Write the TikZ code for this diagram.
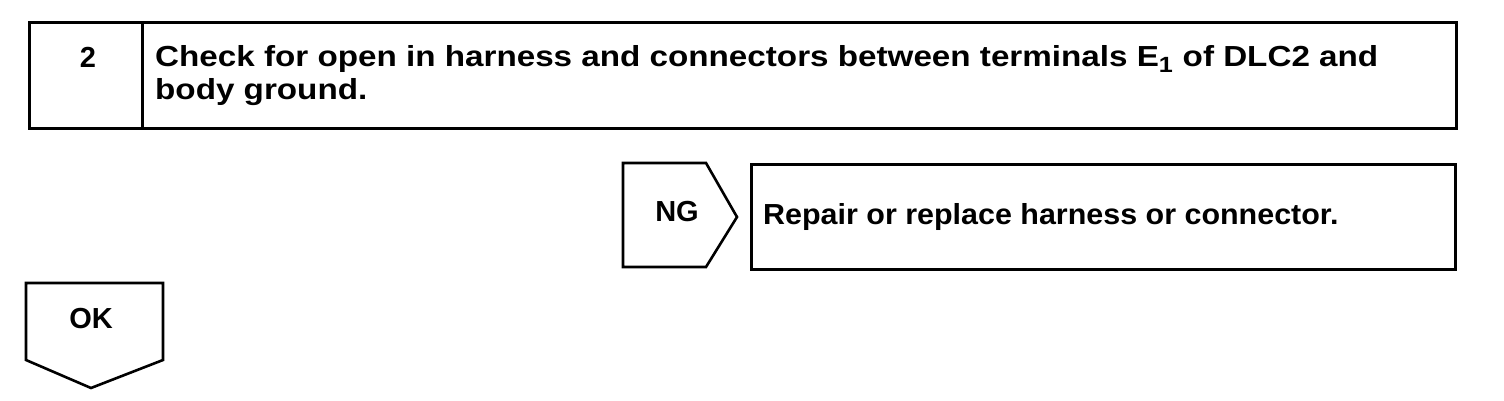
\documentclass[tikz,border=0pt]{standalone}
\usepackage{fontspec}
\setmainfont{Liberation Sans}
\newfontfamily\wideF[FakeStretch=1.145]{Liberation Sans}
\newfontfamily\midF[FakeStretch=1.05]{Liberation Sans}
\newfontfamily\narF[FakeStretch=1.0]{Liberation Sans}
\begin{document}
\begin{tikzpicture}[x=1pt,y=-1pt,
  box/.style={draw=black,line width=2.8pt,inner sep=0pt,anchor=north west},
  shp/.style={draw=black,line width=2.6pt,line join=miter},
  txt/.style={inner sep=0pt,font=\fontsize{29}{33}\selectfont\bfseries,align=left}]
\useasboundingbox (0,0) rectangle (1504,400);
% step box
\node[box,minimum width=113pt,minimum height=106pt] (num) at (28,21) {};
\node[box,minimum width=1314pt,minimum height=106pt] (title) at (141,21) {};
\node[txt] (n2) at (88,57) {\narF 2};
\node[txt,anchor=base west] (t1) at (155,66) {\wideF Check for open in harness and connectors between terminals E\textsubscript{\fontsize{22}{22}\selectfont 1} of DLC2 and};
\node[txt,anchor=base west] (t2) at (155,99) {\wideF body ground.};
% NG
\draw[shp] (623,163) -- (706,163) -- (737,217) -- (706,267) -- (623,267) -- cycle;
\node[txt] (ng) at (677,212) {\narF NG};
\node[box,minimum width=704pt,minimum height=105pt] (rep) at (750,163) {};
\node[txt,anchor=base west] (rt) at (763,224) {\midF Repair or replace harness or connector.};
% OK
\draw[shp] (26,283) -- (163,283) -- (163,360) -- (91,388) -- (26,360) -- cycle;
\node[txt] (ok) at (91,319) {\narF OK};
\end{tikzpicture}
\end{document}
